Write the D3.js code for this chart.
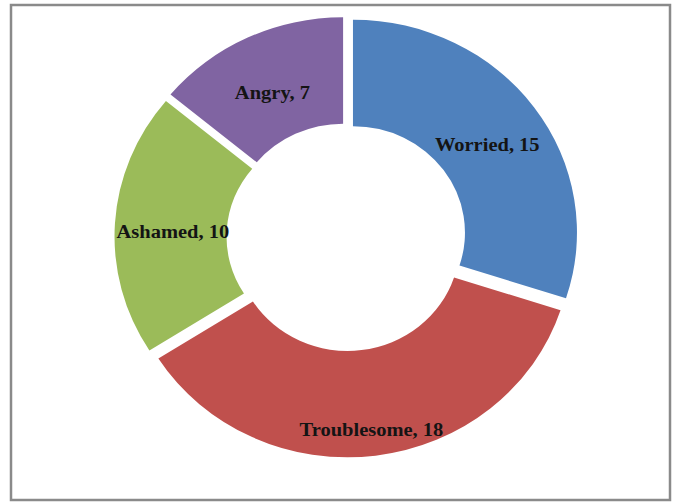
<!DOCTYPE html>
<html>
<head>
<meta charset="utf-8">
<script src="https://cdn.jsdelivr.net/npm/d3@7"></script>
<style>
  body { margin: 0; background: #fff; }
  svg { display: block; }
</style>
</head>
<body>
<svg class="donut_svg" width="676" height="502"></svg>
<script>
// chart data
var categories = ["Worried", "Troublesome", "Ashamed", "Angry"];
var values = [15, 18, 10, 7];
var colours = ["#4f81bd", "#c0504d", "#9bbb59", "#8064a2"];

var svg = d3.select(".donut_svg"),
    cx = 346.5,
    cy = 237,
    outerR = 224,
    innerR = 112,
    explode = 8;

// frame round the chart
svg.append("rect")
    .attr("x", 11)
    .attr("y", 5)
    .attr("width", 659)
    .attr("height", 495)
    .attr("fill", "#fff")
    .attr("stroke", "#8a8a8a")
    .attr("stroke-width", 2.5);

// picture is a little squashed vertically
var grp = svg.append("g")
    .attr("transform", "translate(" + cx + "," + cy + ") scale(1,0.95)");

var pie = d3.pie().sort(null).value(function (d) { return d; });
var arcs = pie(values);

var arc = d3.arc().innerRadius(innerR).outerRadius(outerR);

function shift(d, r) { // point along the slice bisector
    var a = (d.startAngle + d.endAngle) / 2;
    return [Math.sin(a) * r, -Math.cos(a) * r];
}

grp.selectAll("path.slice")
    .data(arcs)
    .enter()
    .append("path")
    .attr("class", "slice")
    .attr("d", arc)
    .attr("fill", function (d, i) { return colours[i]; })
    .attr("transform", function (d) {
        var p = shift(d, explode);
        return "translate(" + p[0] + "," + p[1] + ")";
    });

// labels sit near the ring middle, the bottom one a bit further out
function labelRadius(i) {
    return categories[i] === "Troublesome" ? 199 : 174;
}

grp.selectAll("text.lbl")
    .data(arcs)
    .enter()
    .append("text")
    .attr("class", "lbl")
    .attr("x", function (d, i) { return shift(d, labelRadius(i))[0]; })
    .attr("y", function (d, i) { return shift(d, labelRadius(i))[1] + 5; })
    .attr("text-anchor", "middle")
    .attr("dy", ".35em")
    .style("font-family", "'Liberation Serif', 'Times New Roman', serif")
    .style("font-weight", "bold")
    .style("font-size", "20.5px")
    .style("fill", "#141414")
    .text(function (d, i) { return categories[i] + ", " + values[i]; });
</script>
</body>
</html>
